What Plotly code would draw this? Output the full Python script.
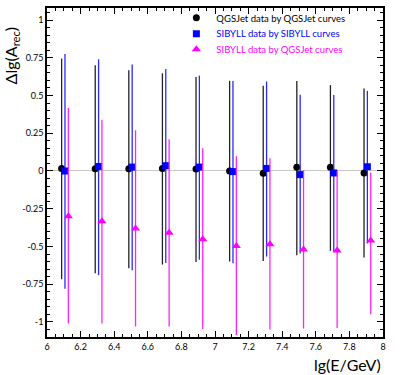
import plotly.graph_objects as go

# lg(E/GeV) positions of each series (slightly shifted per series)
lgE_qgs = [6.087, 6.287, 6.487, 6.687, 6.887, 7.087, 7.287, 7.487, 7.687, 7.887]
lgE_sib = [6.107, 6.307, 6.507, 6.707, 6.907, 7.107, 7.307, 7.507, 7.707, 7.907]
lgE_mix = [6.127, 6.327, 6.527, 6.727, 6.927, 7.127, 7.327, 7.527, 7.727, 7.927]

# QGSJet data by QGSJet curves
qgs_val = [0.017, 0.015, 0.015, 0.017, 0.013, 0.0, -0.015, 0.024, 0.024, -0.013]
qgs_hi = [0.745, 0.70, 0.667, 0.647, 0.623, 0.597, 0.564, 0.597, 0.569, 0.547]
qgs_lo = [-0.717, -0.677, -0.645, -0.62, -0.603, -0.60, -0.597, -0.558, -0.529, -0.573]

# SIBYLL data by SIBYLL curves
sib_val = [0.0, 0.03, 0.026, 0.035, 0.026, -0.004, 0.017, -0.024, -0.013, 0.028]
sib_hi = [0.776, 0.74, 0.706, 0.675, 0.632, 0.597, 0.593, 0.505, 0.503, 0.531]
sib_lo = [-0.78, -0.69, -0.658, -0.61, -0.588, -0.612, -0.567, -0.547, -0.535, -0.48]

# SIBYLL data by QGSJet curves
mix_val = [-0.30, -0.333, -0.381, -0.41, -0.453, -0.497, -0.486, -0.52, -0.527, -0.46]
mix_hi = [0.418, 0.34, 0.27, 0.21, 0.15, 0.098, 0.085, 0.005, 0.0, -0.01]
mix_lo = [-1.01, -1.01, -1.03, -1.03, -1.048, -1.087, -1.05, -1.044, -1.04, -0.95]

y_ticks = [-1, -0.75, -0.5, -0.25, 0, 0.25, 0.5, 0.75, 1]
y_labels = ["-1", "-0.75", "-0.5", "-0.25", "0", "0.25", "0.5", "0.75", "1"]

FONT = "Lato, Liberation Sans, sans-serif"


def series(x, y, hi, lo, name, color, bar_color, symbol, size, legend):
    return go.Scatter(
        x=x,
        y=y,
        mode="markers",
        name=f"<span style='color:{color}'>{name}</span>",
        legend=legend,
        marker=dict(color=color, symbol=symbol, size=size, line=dict(width=0)),
        error_y=dict(
            type="data",
            symmetric=False,
            array=[h - v for h, v in zip(hi, y)],
            arrayminus=[v - l for v, l in zip(y, lo)],
            color=bar_color,
            thickness=1.3,
            width=0,
        ),
    )


fig = go.Figure()
fig.add_trace(series(lgE_qgs, qgs_val, qgs_hi, qgs_lo, "QGSJet data by QGSJet curves",
                     "#000000", "#222222", "circle", 7, "legend"))
fig.add_trace(series(lgE_sib, sib_val, sib_hi, sib_lo, "SIBYLL data by SIBYLL curves",
                     "#0000ff", "#2a2aff", "square", 7, "legend2"))
fig.add_trace(series(lgE_mix, mix_val, mix_hi, mix_lo, "SIBYLL data by QGSJet curves",
                     "#ff00ff", "#ff22ff", "triangle-up", 8, "legend3"))

axis_common = dict(
    showline=True,
    linecolor="black",
    linewidth=1.5,
    mirror="ticks",
    ticks="inside",
    ticklen=6,
    tickwidth=1.2,
    tickcolor="black",
    showgrid=False,
    tickfont=dict(size=9, color="black", family=FONT),
)

fig.update_xaxes(
    range=[6, 8],
    dtick=0.2,
    tick0=6,
    zeroline=False,
    minor=dict(dtick=0.05, ticks="inside", ticklen=3, tickcolor="black", showgrid=False),
    **axis_common,
)
fig.update_yaxes(
    range=[-1.1, 1.08],
    tickvals=y_ticks,
    ticktext=y_labels,
    zeroline=True,
    zerolinecolor="#c8c8c8",
    zerolinewidth=1,
    minor=dict(dtick=0.05, tick0=0, ticks="inside", ticklen=3, tickcolor="black", showgrid=False),
    **axis_common,
)

fig.add_annotation(
    text="lg(E/GeV)",
    xref="paper", yref="paper",
    x=1.0, y=-0.083,
    xanchor="right", yanchor="middle",
    showarrow=False,
    font=dict(size=16, color="black", family=FONT),
)
fig.add_annotation(
    text="Δlg(A<sub>rec</sub>)",
    xref="paper", yref="paper",
    x=-0.105, y=0.855,
    xanchor="center", yanchor="middle",
    textangle=-90,
    showarrow=False,
    font=dict(size=16, color="black", family=FONT),
)


def legend_box(y):
    return dict(
        x=0.385,
        y=y,
        xanchor="left",
        yanchor="middle",
        bgcolor="rgba(0,0,0,0)",
        font=dict(size=9.5, family=FONT),
        itemwidth=30,
    )


fig.update_layout(
    width=411,
    height=375,
    template="plotly_white",
    plot_bgcolor="white",
    paper_bgcolor="white",
    font=dict(family=FONT, color="black"),
    margin=dict(l=47, r=28, t=3, b=38),
    showlegend=True,
    legend=legend_box(0.970),
    legend2=legend_box(0.922),
    legend3=legend_box(0.875),
)

fig.write_html(
    "out.html",
    config={"displayModeBar": False},
    post_script="document.body.style.margin = '0';",
)
